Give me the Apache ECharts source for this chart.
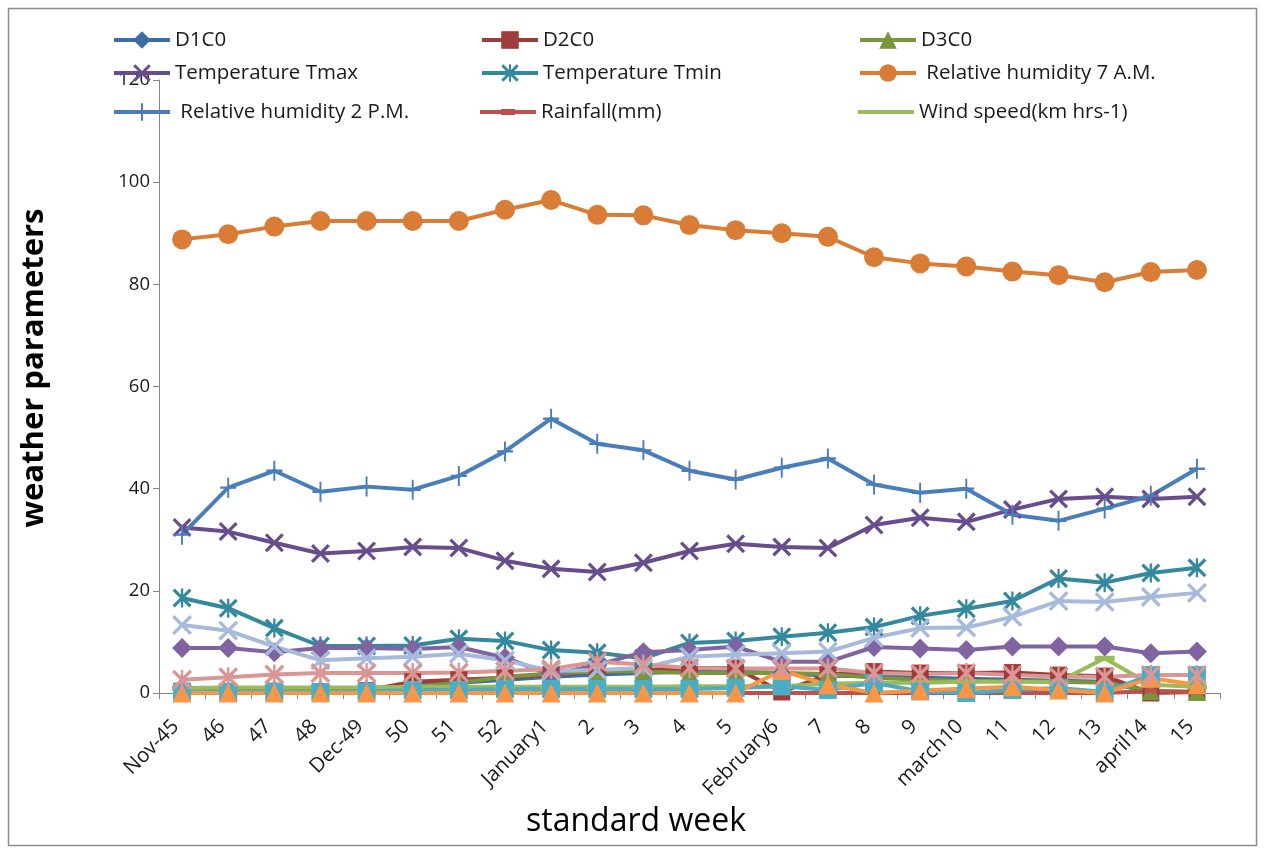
<!DOCTYPE html>
<html>
<head>
<meta charset="utf-8">
<title>Weather parameters by standard week</title>
<script src="https://cdn.jsdelivr.net/npm/echarts@6/dist/echarts.min.js"></script>
<style>
  html, body { margin: 0; padding: 0; background: #ffffff; }
  #chart { width: 1265px; height: 854px; }
</style>
</head>
<body>
<div id="chart"></div>
<script>
// Standard weeks (x axis categories)
const weeks = ['Nov-45', '46', '47', '48', 'Dec-49', '50', '51', '52', 'January1', '2', '3', '4', '5',
  'February6', '7', '8', '9', 'march10', '11', '12', '13', 'april14', '15'];

// Y axis scale
const yMin = 0, yMax = 120, yStep = 20;

// Series values, one entry per standard week
const d1c0 = [0.2, 0.2, 0.2, 0.2, 0.3, 1.5, 2.0, 2.6, 3.2, 3.6, 3.9, 4.2, 4.2, 3.9, 3.4, 3.3, 3.0, 2.8, 2.6, 2.4, 2.2, 0.2, 0.2];
const d2c0 = [0.2, 0.2, 0.0, 0.3, 0.5, 2.2, 2.6, 3.0, 3.6, 4.2, 4.5, 4.9, 4.9, 0.2, 3.6, 4.2, 3.9, 3.9, 4.0, 3.5, 3.3, 0.0, 0.2];
const d3c0 = [0.8, 0.9, 1.0, 1.0, 1.0, 1.2, 2.0, 3.2, 3.8, 4.2, 4.2, 3.9, 3.9, 3.9, 3.7, 3.0, 2.6, 2.4, 2.3, 2.2, 2.0, 0.4, 0.2];
const tmax = [32.4, 31.6, 29.4, 27.3, 27.8, 28.6, 28.4, 25.9, 24.3, 23.7, 25.5, 27.8, 29.2, 28.6, 28.4, 32.9, 34.3, 33.5, 35.9, 38.0, 38.4, 38.0, 38.4];
const tmin = [18.6, 16.6, 12.7, 9.2, 9.2, 9.3, 10.6, 10.2, 8.4, 7.9, 6.8, 9.8, 10.2, 11.0, 11.8, 12.9, 15.1, 16.5, 18.0, 22.4, 21.6, 23.5, 24.5];
const rh7am = [88.8, 89.8, 91.3, 92.4, 92.4, 92.4, 92.4, 94.6, 96.5, 93.6, 93.5, 91.6, 90.6, 90.0, 89.3, 85.3, 84.1, 83.5, 82.5, 81.8, 80.4, 82.4, 82.8];
const rh2pm = [31.0, 40.2, 43.5, 39.4, 40.4, 39.8, 42.5, 47.3, 53.7, 48.8, 47.5, 43.5, 41.8, 44.1, 45.9, 40.8, 39.2, 40.0, 34.9, 33.7, 36.1, 38.6, 43.9];
const rainfall = [0, 0, 0, 0, 0, 0, 0, 0, 0, 0, 0, 0, 0, 0, 0, 0, 0, 0, 0, 0, 0, 0.4, 0.2];
const windSpeed = [1.0, 1.1, 1.1, 1.1, 1.1, 1.2, 1.2, 1.2, 1.2, 1.2, 1.2, 1.3, 1.3, 1.3, 1.8, 2.0, 2.0, 2.2, 2.2, 2.2, 6.8, 1.6, 1.2];
const series10 = [8.8, 8.8, 8.0, 8.8, 8.8, 8.6, 9.0, 6.9, 3.6, 5.5, 8.0, 8.4, 9.1, 6.1, 6.1, 9.0, 8.7, 8.4, 9.1, 9.1, 9.1, 7.8, 8.1];
const series11 = [0.3, 0.2, 0.3, 0.2, 0.3, 0.6, 0.6, 0.8, 0.8, 0.8, 0.8, 0.8, 1.0, 1.3, 0.6, 2.0, 0.3, 0.0, 0.6, 1.0, 0.2, 3.5, 3.5];
const series12 = [0, 0, 0, 0, 0, 0, 0, 0, 0, 0, 0, 0, 0, 4.4, 1.6, 0, 0.5, 0.9, 1.2, 0.6, 0, 2.9, 1.6];
const series13 = [13.3, 12.2, 9.1, 6.4, 6.8, 7.1, 7.7, 6.4, 4.3, 4.5, 4.9, 7.1, 7.5, 7.8, 8.1, 10.8, 12.7, 12.8, 14.9, 18.0, 17.8, 18.8, 19.6];
const series14 = [2.6, 3.1, 3.6, 3.9, 3.9, 3.9, 4.0, 4.3, 4.7, 6.1, 5.6, 4.9, 4.8, 4.8, 4.8, 3.9, 3.7, 3.9, 3.5, 3.2, 3.2, 3.5, 3.5];

// Marker shapes drawn as filled outlines
const X_SHAPE = 'M0,1.2 L1.2,0 L5,3.8 L8.8,0 L10,1.2 L6.2,5 L10,8.8 L8.8,10 L5,6.2 L1.2,10 L0,8.8 L3.8,5 Z';
const SYM_X = 'path://' + X_SHAPE;
const SYM_STAR = 'path://' + X_SHAPE + ' M4.4,0 L5.6,0 L5.6,10 L4.4,10 Z';
const SYM_PLUS = 'path://M4.4,0 L5.6,0 L5.6,4.4 L10,4.4 L10,5.6 L5.6,5.6 L5.6,10 L4.4,10 L4.4,5.6 L0,5.6 L0,4.4 L4.4,4.4 Z';
const SYM_DASH = 'path://M0,0 L10,0 L10,10 L0,10 Z';

// Legend icons for the two dash-marker series: a plain thick line (with a short bar for rainfall)
const ICON_RAIN = 'path://M0,1 L56,1 L56,5 L0,5 Z M21,0 L35,0 L35,6 L21,6 Z';
const ICON_WIND = 'path://M0,0 L56,0 L56,4 L0,4 Z';

const FONT = '"Open Sans", "Noto Sans", sans-serif';

function lineSeries(name, data, color, symbol, size) {
  return {
    type: 'line',
    name: name,
    data: data,
    symbol: symbol,
    symbolSize: size,
    showSymbol: true,
    showAllSymbol: true,
    symbolKeepAspect: false,
    lineStyle: { width: 4, color: color },
    itemStyle: { color: color },
    emphasis: { disabled: true },
    silent: true
  };
}

const seriesList = [
  lineSeries('D1C0', d1c0, '#3d6ba6', 'diamond', 18),
  lineSeries('D2C0', d2c0, '#9f3d3a', 'rect', 17),
  lineSeries('D3C0', d3c0, '#77963d', 'triangle', 18),
  lineSeries('Temperature Tmax', tmax, '#684d8c', SYM_X, 19),
  lineSeries('Temperature Tmin', tmin, '#35899e', SYM_STAR, 19),
  lineSeries(' Relative humidity 7 A.M.', rh7am, '#d97d36', 'circle', 20),
  lineSeries(' Relative humidity 2 P.M.', rh2pm, '#4a7ebb', SYM_PLUS, [16, 20]),
  lineSeries('Rainfall(mm)', rainfall, '#c0504d', SYM_DASH, [12, 5]),
  lineSeries('Wind speed(km hrs-1)', windSpeed, '#9bbb59', SYM_DASH, [20, 5]),
  lineSeries('Series10', series10, '#8064a2', 'diamond', 20),
  lineSeries('Series11', series11, '#4bacc6', 'rect', 18),
  lineSeries('Series12', series12, '#f79646', 'triangle', 19),
  lineSeries('Series13', series13, '#a8badb', SYM_X, 20),
  lineSeries('Series14', series14, '#d99694', SYM_STAR, 20)
];

// Legend: three columns, three rows
const legendLayout = [
  ['D1C0', 112, 29, null], ['D2C0', 480, 29, null], ['D3C0', 858, 29, null],
  ['Temperature Tmax', 112, 62, null], ['Temperature Tmin', 480, 62, null], [' Relative humidity 7 A.M.', 858, 62, null],
  [' Relative humidity 2 P.M.', 112, 101, null], ['Rainfall(mm)', 480, 101, ICON_RAIN], ['Wind speed(km hrs-1)', 858, 101, ICON_WIND]
];

const legends = legendLayout.map(function (item) {
  const entry = item[3] ? { name: item[0], icon: item[3] } : { name: item[0] };
  return {
    data: [entry],
    left: item[1],
    top: item[2],
    padding: 0,
    itemWidth: 56,
    itemHeight: 22,
    selectedMode: false,
    lineStyle: { width: 4 },
    textStyle: { fontFamily: FONT, fontSize: 20.5, color: '#1a1a1a', lineHeight: 22 }
  };
});

const chart = echarts.init(document.getElementById('chart'), null, { renderer: 'canvas' });

chart.setOption({
  animation: false,
  backgroundColor: '#ffffff',
  legend: legends,
  grid: { left: 159, right: 45, top: 80, bottom: 161, containLabel: false },
  xAxis: {
    type: 'category',
    data: weeks,
    boundaryGap: true,
    axisLine: { show: true, lineStyle: { color: '#868686', width: 1 } },
    axisTick: { show: true, length: 6, interval: 0, lineStyle: { color: '#868686' } },
    axisLabel: {
      interval: 0,
      rotate: 45,
      margin: 24,
      padding: [0, 9, 0, 0],
      fontFamily: FONT,
      fontSize: 20.5,
      color: '#1a1a1a'
    },
    splitLine: { show: false }
  },
  yAxis: {
    type: 'value',
    min: yMin,
    max: yMax,
    interval: yStep,
    axisLine: { show: true, lineStyle: { color: '#868686', width: 1 } },
    axisTick: { show: true, length: 6, lineStyle: { color: '#868686' } },
    axisLabel: { margin: 9, fontFamily: FONT, fontSize: 18.5, color: '#1a1a1a' },
    splitLine: { show: false }
  },
  graphic: [
    {
      type: 'rect',
      shape: { x: 8.5, y: 8.5, width: 1248, height: 837 },
      style: { fill: 'none', stroke: '#8c8c8c', lineWidth: 1.5 },
      silent: true,
      z: -10
    },
    {
      type: 'text',
      x: 34,
      y: 368,
      rotation: Math.PI / 2,
      style: {
        text: 'weather parameters',
        fontFamily: FONT,
        fontSize: 31,
        fontWeight: 'bold',
        fill: '#000000',
        align: 'center',
        verticalAlign: 'middle'
      },
      silent: true
    },
    {
      type: 'text',
      x: 636,
      y: 822,
      style: {
        text: 'standard week',
        fontFamily: FONT,
        fontSize: 32,
        fill: '#000000',
        align: 'center',
        verticalAlign: 'middle'
      },
      silent: true
    }
  ],
  series: seriesList
});
</script>
</body>
</html>
